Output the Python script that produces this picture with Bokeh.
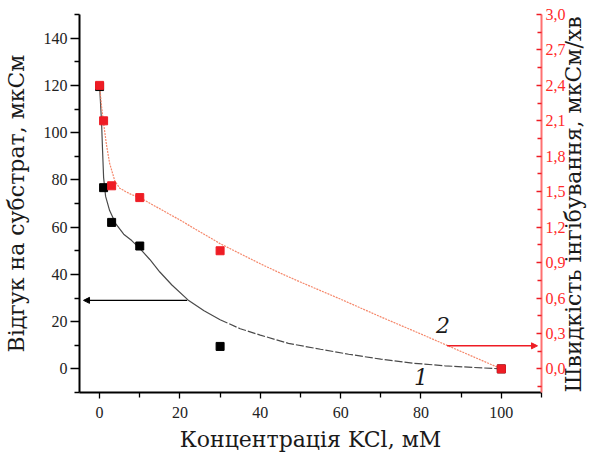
import math
from bokeh.plotting import figure
from bokeh.models import (Range1d, LinearAxis, FixedTicker, CustomJSTickFormatter,
                          Arrow, NormalHead, Label)
from bokeh.embed import file_html
from bokeh.resources import INLINE

# ---- data ----
conc = [0, 1, 3, 10, 30, 100]                      # KCl, mM
response = [119.5, 76.7, 62.0, 52.0, 9.5, 0.0]     # series 1 (left axis)
rate = [2.40, 2.10, 1.55, 1.45, 1.00, 0.00]        # series 2 (right axis)

# fitted curve 1
fit1_x = [0, 0.25, 0.5, 0.75, 1, 1.5, 2.5, 4, 6, 8, 10, 12.5, 15, 18, 22, 26, 30,
          35, 40, 47, 55, 62, 70, 78, 86, 93, 100]
fit1_y = [119.8, 112, 104, 92, 81, 73, 67, 61.5, 57, 54.3, 51, 46.3, 41, 35.5, 29.2,
          24.6, 20.8, 17, 14.3, 10.8, 8.3, 6.2, 4.1, 2.4, 1.3, 0.6, 0.0]

# fitted curve 2
fit2_x = [0, 0.5, 1, 1.7, 2.5, 3.8, 5, 6.5, 8, 10, 15, 20, 25, 30, 35, 40,
          45, 50, 60, 70, 80, 90, 100]
fit2_y = [2.40, 2.22, 2.08, 1.90, 1.74, 1.59, 1.53, 1.50, 1.475, 1.45, 1.355, 1.26,
          1.16, 1.06, 0.975, 0.89, 0.81, 0.735, 0.59, 0.44, 0.295, 0.147, 0.0]

x_ticks = [0, 20, 40, 60, 80, 100]
x_minor = [-10, 10, 30, 50, 70, 90, 110]
left_ticks = [0, 20, 40, 60, 80, 100, 120, 140]
left_minor = [-10, 10, 30, 50, 70, 90, 110, 130, 150]
right_ticks = [0.0, 0.3, 0.6, 0.9, 1.2, 1.5, 1.8, 2.1, 2.4, 2.7, 3.0]
right_minor = [-0.15, 0.15, 0.45, 0.75, 1.05, 1.35, 1.65, 1.95, 2.25, 2.55, 2.85]

x_label = "Концентрація KCl, мМ"
left_label = "Відгук на субстрат, мкСм"
right_label = "Швидкість інгібування, мкСм/хв"

# annotation positions
arrow1 = dict(x_start=21.8, y_start=29.0, x_end=-4.0, y_end=29.0)
arrow2 = dict(x_start=86.5, y_start=0.195, x_end=109.0, y_end=0.195)
tag1 = (80.0, -3.6, "1")
tag2 = (85.5, 18.6, "2")

RED = "#ee1c24"
SERIF = "'DejaVu Serif', serif"
TICKFONT = "'Liberation Serif', serif"

p = figure(width=601, height=459, output_backend="svg", toolbar_location=None,
           x_range=Range1d(-5, 110), y_range=Range1d(-10, 150),
           min_border_left=79, min_border_right=57, min_border_top=14,
           min_border_bottom=67)
p.extra_y_ranges = {"right": Range1d(-0.2, 3.0)}
p.grid.visible = False
p.outline_line_color = None
p.background_fill_color = "white"
p.border_fill_color = "white"

# curves
n_solid = 17
p.line(fit1_x[:n_solid], fit1_y[:n_solid], line_color="#4a4a4a", line_width=1.2)
p.line(fit1_x[n_solid - 1:], fit1_y[n_solid - 1:], line_color="#4a4a4a",
       line_width=1.2, line_dash="8 2")
p.line(fit2_x, fit2_y, y_range_name="right", line_color="#f5876a",
       line_width=1.2, line_dash="2 1")

# points
p.scatter(conc, response, marker="square", size=8, fill_color="black", line_color="black")
p.scatter(conc, rate, y_range_name="right", marker="square", size=8,
          fill_color=RED, line_color=RED)

# arrows
p.add_layout(Arrow(end=NormalHead(size=6, fill_color="black", line_color="black"),
                   line_color="black", line_width=1.2, **arrow1))
p.add_layout(Arrow(end=NormalHead(size=6, fill_color=RED, line_color=RED),
                   line_color=RED, line_width=1.5, y_range_name="right", **arrow2))

for (tx, ty, tt) in (tag1, tag2):
    p.add_layout(Label(x=tx, y=ty, text=tt, text_font=SERIF, text_font_style="italic",
                       text_font_size="22px", text_color="#1a1a1a",
                       text_align="center", text_baseline="middle"))

# bottom axis
xa = p.xaxis[0]
xa.ticker = FixedTicker(ticks=x_ticks, minor_ticks=x_minor)
xa.axis_label = x_label
xa.axis_line_width = 2
xa.axis_line_color = "black"
xa.major_tick_out = 6
xa.major_tick_in = 0
xa.minor_tick_out = 5
xa.minor_tick_in = 0
xa.major_tick_line_width = 1.3
xa.minor_tick_line_width = 1.3
xa.major_label_text_font = TICKFONT
xa.major_label_text_font_size = "16px"
xa.major_label_text_color = "#222222"
xa.major_label_standoff = 8
xa.axis_label_text_font = SERIF
xa.axis_label_text_font_style = "normal"
xa.axis_label_text_font_size = "22px"
xa.axis_label_text_color = "#1a1a1a"
xa.axis_label_standoff = 6

# left axis
ya = p.yaxis[0]
ya.ticker = FixedTicker(ticks=left_ticks, minor_ticks=left_minor)
ya.axis_label = left_label
ya.axis_line_width = 2
ya.axis_line_color = "black"
ya.major_tick_out = 9
ya.major_tick_in = 0
ya.minor_tick_out = 5
ya.minor_tick_in = 0
ya.major_tick_line_width = 1.3
ya.minor_tick_line_width = 1.3
ya.major_label_text_font = TICKFONT
ya.major_label_text_font_size = "16px"
ya.major_label_text_color = "#222222"
ya.major_label_standoff = 3
ya.axis_label_text_font = SERIF
ya.axis_label_text_font_style = "normal"
ya.axis_label_text_font_size = "22px"
ya.axis_label_text_color = "#1a1a1a"
ya.axis_label_standoff = 12

# right axis
ra = LinearAxis(y_range_name="right",
                ticker=FixedTicker(ticks=right_ticks, minor_ticks=right_minor),
                formatter=CustomJSTickFormatter(code="return tick.toFixed(1).replace('.', ',');"))
ra.axis_label = right_label
ra.axis_label_orientation = math.pi / 2
ra.axis_label_align = "start"
ra.axis_line_width = 2
ra.axis_line_color = "#ff7070"
ra.major_tick_out = 0
ra.major_tick_in = 5
ra.minor_tick_out = 0
ra.minor_tick_in = 4
ra.major_tick_line_color = RED
ra.minor_tick_line_color = RED
ra.major_tick_line_width = 1.3
ra.minor_tick_line_width = 1.3
ra.major_label_text_font = TICKFONT
ra.major_label_text_font_size = "16px"
ra.major_label_text_color = "#ff2a2a"
ra.major_label_standoff = 4
ra.axis_label_text_font = SERIF
ra.axis_label_text_font_style = "normal"
ra.axis_label_text_font_size = "22px"
ra.axis_label_text_color = "#1a1a1a"
ra.axis_label_standoff = 5
p.add_layout(ra, "right")

open("out.html", "w").write(file_html(p, INLINE))
